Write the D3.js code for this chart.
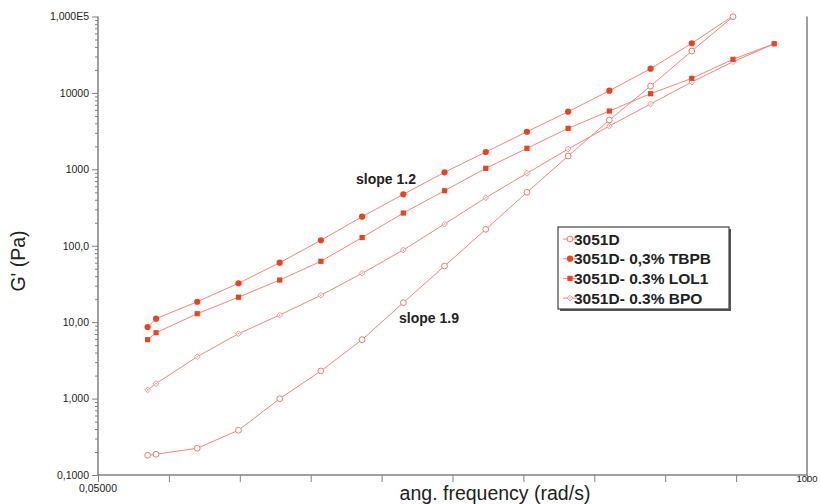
<!DOCTYPE html>
<html>
<head>
<meta charset="utf-8">
<script src="https://cdn.jsdelivr.net/npm/d3@7"></script>
<style>
body { margin: 0; background: white; }
text { font-family: "Liberation Sans", Arial, sans-serif; }
</style>
</head>
<body>
<div id="chart"></div>
<script>
// frequencies (rad/s)
var freq = [0.1, 0.1125, 0.2, 0.3557, 0.6325, 1.125, 2, 3.557, 6.325, 11.25, 20, 35.57, 63.25, 112.5, 200, 355.7, 632.5]

// G' (Pa) per sample
var g3051D = [0.181, 0.187, 0.224, 0.385, 0.996, 2.30, 5.9, 18.0, 54.3, 164, 500, 1493, 4419, 12300, 35340, 99350]
var gTBPB = [8.64, 11.1, 18.5, 32.3, 60, 118, 240, 471, 914, 1685, 3105, 5676, 10690, 20740, 44570, 102000]
var gLOL1 = [5.9, 7.28, 12.9, 21.2, 35.6, 62.6, 128, 268, 525, 1031, 1884, 3442, 5794, 9760, 15520, 27530, 44040]
var gBPO = [1.30, 1.57, 3.53, 7.06, 12.4, 22.5, 43.6, 88, 192.5, 425, 887, 1845, 3690, 7160, 13890, 25590, 44040]

var seriesNames = ["3051D", "3051D- 0,3% TBPB", "3051D- 0.3% LOL1", "3051D- 0.3% BPO"]

var yTicks = [0.1, 1, 10, 100, 1000, 10000, 100000]
var yTickLabels = ["0,1000", "1,000", "10,00", "100,0", "1000", "10000", "1,000E5"]

var W = 820, H = 504
var pLeft = 98, pRight = 807, pTop = 16.5, pBottom = 475

var svg = d3.select("#chart").append("svg")
	.attr("width", W)
	.attr("height", H)

var x = d3.scaleLog().domain([0.05, 1000]).range([pLeft, pRight])
var y = d3.scaleLog().domain([0.1, 100000]).range([pBottom, pTop])

var axisColor = "#808080"
var lineColor = "#f4877a"
var fillRed = "#f2401c"

//clip for the lines
svg.append("clipPath").attr("id", "plotclip")
	.append("rect")
	.attr("x", pLeft).attr("y", pTop)
	.attr("width", pRight - pLeft).attr("height", pBottom - pTop)

//y axis with minor ticks
var yMinor = []
for (var d = 0; d < yTicks.length - 1; d++) {
	for (var m = 2; m <= 9; m++) yMinor.push(yTicks[d] * m)
}

var gy = svg.append("g").attr("transform", "translate(" + pLeft + ",0)")
gy.append("g").call(d3.axisLeft(y).tickValues(yMinor).tickSize(3).tickFormat(""))
gy.append("g").call(d3.axisLeft(y).tickValues(yTicks).tickSize(6).tickPadding(3)
	.tickFormat(function(d, i){ return yTickLabels[i] }))
gy.selectAll(".domain").remove()
gy.selectAll("line").attr("stroke", axisColor)
gy.selectAll("text").style("font-size", "10.5px").style("font-family", "Liberation Sans, Arial, sans-serif").attr("fill", "#222")

//x axis: 10 even divisions in log space
var nDiv = 10
var xTicks = d3.range(nDiv + 1).map(function(i){
	return x.invert(pLeft + (pRight - pLeft) * i / nDiv)
})
var gx = svg.append("g").attr("transform", "translate(0," + pBottom + ")")
gx.call(d3.axisBottom(x).tickValues(xTicks).tickSize(7).tickFormat(""))
gx.selectAll(".domain").remove()
gx.selectAll("line").attr("stroke", axisColor)

svg.append("line")
	.attr("x1", pLeft).attr("x2", pLeft).attr("y1", pTop).attr("y2", pBottom + 0.5)
	.attr("stroke", axisColor).attr("stroke-width", 1.5)
svg.append("line")
	.attr("x1", pLeft - 0.5).attr("x2", pRight).attr("y1", pBottom).attr("y2", pBottom)
	.attr("stroke", axisColor).attr("stroke-width", 1.5)
svg.append("line")
	.attr("x1", pRight).attr("x2", pRight).attr("y1", pTop).attr("y2", pBottom)
	.attr("stroke", axisColor).attr("stroke-width", 1.5)

svg.append("text")
	.attr("x", pLeft).attr("y", pBottom + 17)
	.attr("text-anchor", "middle")
	.style("font-size", "10.5px").attr("fill", "#222")
	.text("0,05000")
svg.append("text")
	.attr("x", pRight).attr("y", pBottom + 7)
	.attr("text-anchor", "middle")
	.style("font-size", "9.5px").attr("fill", "#222")
	.text("1000")

//axis titles
svg.append("text")
	.attr("transform", "translate(25,261) rotate(-90)")
	.attr("text-anchor", "middle")
	.style("font-size", "19.5px").attr("fill", "#222")
	.text("G' (Pa)")
svg.append("text")
	.attr("x", 495).attr("y", 500)
	.attr("text-anchor", "middle")
	.style("font-size", "19.5px").attr("fill", "#222")
	.text("ang. frequency (rad/s)")

//series
var series = [
	{name: seriesNames[0], values: g3051D, marker: "ocircle"},
	{name: seriesNames[1], values: gTBPB, marker: "fcircle"},
	{name: seriesNames[2], values: gLOL1, marker: "square"},
	{name: seriesNames[3], values: gBPO, marker: "diamond"}
]

var line = d3.line()
	.x(function(d){ return x(d[0]) })
	.y(function(d){ return y(d[1]) })

function drawMarker(g, type, cx, cy) {
	if (type == "ocircle") {
		g.append("circle").attr("cx", cx).attr("cy", cy).attr("r", 2.9)
			.attr("fill", "white").attr("stroke", "#f07a70").attr("stroke-width", 1)
	} else if (type == "fcircle") {
		g.append("circle").attr("cx", cx).attr("cy", cy).attr("r", 3.1)
			.attr("fill", fillRed)
	} else if (type == "square") {
		g.append("rect").attr("x", cx - 2.6).attr("y", cy - 2.6)
			.attr("width", 5.2).attr("height", 5.2).attr("fill", fillRed)
	} else {
		var s = 2.9
		g.append("path")
			.attr("d", "M" + cx + "," + (cy - s) + "L" + (cx + s) + "," + cy + "L" + cx + "," + (cy + s) + "L" + (cx - s) + "," + cy + "Z")
			.attr("fill", "white").attr("stroke", "#f29494").attr("stroke-width", 1)
		g.append("circle").attr("cx", cx).attr("cy", cy).attr("r", 0.8).attr("fill", "#f29494")
	}
}

var plot = svg.append("g")
series.forEach(function(s){
	var pts = s.values.map(function(v, i){ return [freq[i], v] })
	plot.append("path")
		.datum(pts)
		.attr("d", line)
		.attr("clip-path", "url(#plotclip)")
		.attr("fill", "none")
		.attr("stroke", lineColor)
		.attr("stroke-width", 1)
})
//markers on top, reverse so 3051D sits on top
series.slice().reverse().forEach(function(s){
	var g = plot.append("g")
	s.values.forEach(function(v, i){
		if (v > 100000) return
		drawMarker(g, s.marker, x(freq[i]), y(v))
	})
})

//annotations
svg.append("text").attr("x", 356).attr("y", 184)
	.style("font-size", "14px").style("font-weight", "bold").attr("fill", "#222")
	.text("slope 1.2")
svg.append("text").attr("x", 399).attr("y", 323)
	.style("font-size", "14px").style("font-weight", "bold").attr("fill", "#222")
	.text("slope 1.9")

//legend
var lg = svg.append("g")
lg.append("rect").attr("x", 560).attr("y", 229).attr("width", 171).attr("height", 82)
	.attr("fill", "#555")
lg.append("rect").attr("x", 558).attr("y", 227).attr("width", 171).attr("height", 82)
	.attr("fill", "white").attr("stroke", "#444").attr("stroke-width", 1.2)

series.forEach(function(s, i){
	var ly = 239 + i * 19.7
	lg.append("line").attr("x1", 563).attr("x2", 577).attr("y1", ly).attr("y2", ly)
		.attr("stroke", lineColor).attr("stroke-width", 1)
	drawMarker(lg, s.marker, 570, ly)
	lg.append("text").attr("x", 574).attr("y", ly + 5.5)
		.style("font-size", "15.5px").style("font-weight", "bold").attr("fill", "#222")
		.text(s.name)
})
</script>
</body>
</html>
